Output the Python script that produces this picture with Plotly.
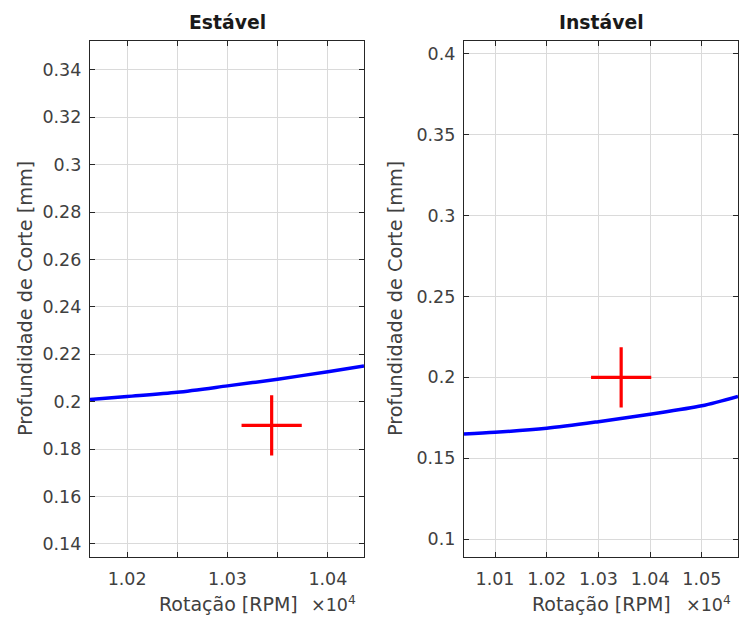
import plotly.graph_objects as go

# Data (RPM, mm)
rpm_est = [10163, 10200, 10250, 10300, 10350, 10400, 10436]
depth_est = [0.2009, 0.2022, 0.2040, 0.2067, 0.2095, 0.2127, 0.2151]
point_est_rpm = [10344]
point_est_depth = [0.19]

rpm_inst = [10040, 10100, 10200, 10300, 10400, 10500, 10570]
depth_inst = [0.165, 0.166, 0.1685, 0.1726, 0.1772, 0.1824, 0.1882]
point_inst_rpm = [10344]
point_inst_depth = [0.20]

left_xticks = [10200, 10300, 10400]
left_xtext = ["1.02", "1.03", "1.04"]
left_xminor = [10250, 10350]
right_xticks = [10100, 10200, 10300, 10400, 10500]
right_xtext = ["1.01", "1.02", "1.03", "1.04", "1.05"]
left_yticks = [0.14, 0.16, 0.18, 0.2, 0.22, 0.24, 0.26, 0.28, 0.3, 0.32, 0.34]
left_ytext = ["0.14", "0.16", "0.18", "0.2", "0.22", "0.24", "0.26", "0.28", "0.3", "0.32", "0.34"]
right_yticks = [0.1, 0.15, 0.2, 0.25, 0.3, 0.35, 0.4]
right_ytext = ["0.1", "0.15", "0.2", "0.25", "0.3", "0.35", "0.4"]

FONT = "DejaVu Sans, Verdana, sans-serif"
TXT = "#262626"
LBL = "#404040"
GRID = "#dadada"

fig = go.Figure()
fig.add_trace(go.Scatter(x=rpm_est, y=depth_est, mode="lines",
                         line=dict(color="#0000ff", width=3.5, shape="spline", smoothing=0.8),
                         xaxis="x", yaxis="y", showlegend=False))
fig.add_trace(go.Scatter(x=point_est_rpm, y=point_est_depth, mode="markers",
                         marker=dict(symbol="cross-thin", size=43, line=dict(color="#ff0000", width=3.2)),
                         xaxis="x", yaxis="y", showlegend=False))
fig.add_trace(go.Scatter(x=rpm_inst, y=depth_inst, mode="lines",
                         line=dict(color="#0000ff", width=3.5, shape="spline", smoothing=0.8),
                         xaxis="x2", yaxis="y2", showlegend=False))
fig.add_trace(go.Scatter(x=point_inst_rpm, y=point_inst_depth, mode="markers",
                         marker=dict(symbol="cross-thin", size=43, line=dict(color="#ff0000", width=3.2)),
                         xaxis="x2", yaxis="y2", showlegend=False))

axis_common = dict(showline=True, linecolor=TXT, linewidth=1.3, mirror="ticks", ticks="inside", ticklen=5,
                   tickcolor=TXT, showgrid=True, gridcolor=GRID, gridwidth=1, zeroline=False,
                   tickfont=dict(family=FONT, size=17.5, color=LBL))

Y0, Y1 = 1 - 557 / 626, 1 - 41 / 626
fig.update_layout(
    width=742, height=626, margin=dict(l=0, r=0, t=0, b=0),
    plot_bgcolor="white", paper_bgcolor="white",
    xaxis=dict(domain=[90 / 742, 364 / 742], range=[10163, 10436], anchor="y",
               tickvals=left_xticks, ticktext=left_xtext, ticklabelstandoff=6,
               minor=dict(tickvals=left_xminor, showgrid=True, gridcolor=GRID, gridwidth=1,
                          ticks="inside", ticklen=5, tickcolor=TXT),
               **axis_common),
    yaxis=dict(domain=[Y0, Y1], range=[0.1345, 0.3522], anchor="x",
               tickvals=left_yticks, ticktext=left_ytext, ticklabelstandoff=4, **axis_common),
    xaxis2=dict(domain=[464 / 742, 738 / 742], range=[10040, 10570], anchor="y2",
                tickvals=right_xticks, ticktext=right_xtext, ticklabelstandoff=6, **axis_common),
    yaxis2=dict(domain=[Y0, Y1], range=[0.0889, 0.408], anchor="x2",
                tickvals=right_yticks, ticktext=right_ytext, ticklabelstandoff=4, **axis_common),
)

ann = []
def add_text(x, y, text, size=16, angle=0, xanchor="center", color=LBL):
    ann.append(dict(x=x / 742, y=1 - y / 626, xref="paper", yref="paper", text=text, showarrow=False,
                    textangle=angle, xanchor=xanchor, yanchor="middle",
                    font=dict(family=FONT, size=size, color=color)))

add_text(227, 22, "<b>Estável</b>", size=18.8, color="#1a1a1a")
add_text(601, 22, "<b>Instável</b>", size=18.8, color="#1a1a1a")
add_text(228, 604, "Rotação [RPM]", size=19)
add_text(601, 604, "Rotação [RPM]", size=19)
add_text(25, 299, "Profundidade de Corte [mm]", size=19.3, angle=-90)
add_text(395, 299, "Profundidade de Corte [mm]", size=19.3, angle=-90)
add_text(358, 604, "×10<sup>4</sup>", size=17.5, xanchor="right")
add_text(733, 604, "×10<sup>4</sup>", size=17.5, xanchor="right")
fig.update_layout(annotations=ann)

fig.write_html("out.html")
